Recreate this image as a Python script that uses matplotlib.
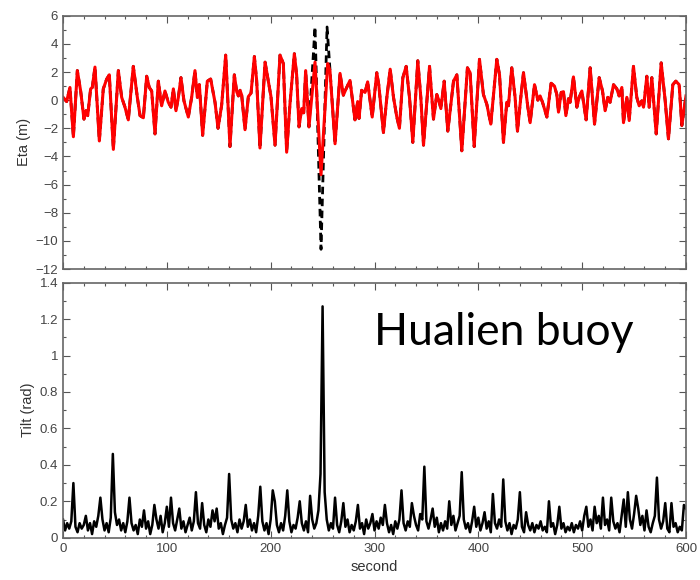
import numpy as np
import matplotlib
matplotlib.use('Agg')
import matplotlib.pyplot as plt
from matplotlib.ticker import MultipleLocator, FormatStrFormatter

eta_time = [0, 3.5, 6.7, 10.0, 13.8, 17.0, 20.2, 22.1, 23.8, 26.6, 28.2, 30.8, 35.0, 38.8, 42.1,
            44.6, 48.5, 53.3, 56.5, 59.7, 62.9, 67.7, 71.6, 74.2, 77.4, 80.6, 83.1, 85.4, 88.6,
            91.8, 95.0, 98.2, 101.4, 104.0, 106.3, 108.8, 111.1, 113.6, 116.5, 120.7, 123.9,
            127.1, 129.4, 131.3, 134.5, 139.0, 142.2, 146.4, 149.3, 152.8, 156.7, 160.8, 165.0,
            167.3, 168.9, 170.5, 172.1, 175.3, 178.5, 181.1, 184.3, 186.5, 189.7, 194.6, 197.8,
            200.3, 204.2, 209.0, 212.2, 215.4, 218.6, 222.8, 225.0, 227.3, 229.9, 231.8, 233.7,
            236.9, 242.7, 248.5, 254.9, 257.1, 262.0, 266.8, 270.0, 272.6, 276.4, 281.2, 283.8,
            285.1, 287.6, 290.9, 293.4, 297.8, 302.2, 304.1, 308.6, 311.9, 315.1, 318.3, 321.5,
            324.0, 327.3, 330.5, 333.7, 336.9, 341.7, 344.6, 347.2, 353.0, 356.8, 360.0, 361.9,
            363.9, 367.1, 370.6, 376.1, 379.3, 384.1, 389.5, 392.1, 396.0, 401.1, 404.9, 408.2,
            412.0, 417.8, 420.4, 424.2, 427.4, 429.0, 432.2, 435.4, 437.7, 440.9, 443.5, 447.7,
            449.9, 454.1, 457.3, 459.5, 461.8, 466.0, 470.1, 473.3, 475.6, 477.2, 479.8, 482.0,
            484.3, 486.8, 488.4, 491.6, 494.9, 497.1, 499.7, 503.8, 507.7, 511.9, 516.4, 519.6,
            522.1, 524.7, 526.9, 530.2, 533.4, 535.6, 538.2, 539.8, 543.0, 545.3, 549.4, 552.6,
            554.9, 557.4, 559.1, 562.3, 564.5, 567.1, 571.3, 576.1, 579.9, 583.1, 587.3, 590.2,
            593.4, 596.0, 600.0]
eta_red = [0.2, -0.1, 0.9, -2.6, 2.1, 0.65, -1.35, -0.75, -1.1, 0.8, 0.9, 2.35, -2.9, 0.8, 1.5,
           1.8, -3.5, 2.1, 0.2, -0.5, -1.4, 2.4, 0.2, -1.1, -1.25, 1.7, 0.9, 0.65, -2.4,
           1.35, -0.4, 0.65, -0.15, -0.5, 0.8, -0.75, 0.2, 1.6, -0.05, -1.2, 0.2,
           2.1, 0.2, 1.1, -2.5, 1.35, 1.5, -0.15, -2.0, -0.35, 3.2, -3.3, 1.8,
           0.6, 0.3, 0.7, 0.35, -2.1, 0.25, 0.5, 3.1, 1.4, -3.4, 2.7, 1.3,
           0.25, -3.2, 3.2, 2.6, -3.7, -0.25, 3.3, 1.8, -1.9, -0.6, -0.9, 2.1,
           -1.9, 2.7, -5.3, 2.6, 2.1, -3.1, 1.9, 0.35, 0.8, 1.4, -1.4, -0.1,
           -1.3, 0.7, 0.55, 1.3, -1.2, 1.95, 1.1, -2.3, 0.2, 2.2, 0.2, -1.2,
           -2.0, 1.6, 2.4, 0.2, -3.0, 2.8, 0.2, -3.2, 2.4, -1.35, 0.4, 0.0,
           -0.6, 1.35, -2.2, 1.35, 1.8, -3.6, 2.3, 1.95, -3.3, 2.9, 0.4, -0.3,
           -1.7, 2.9, 1.8, -3.0, -0.15, -0.4, 2.3, 0.2, -2.2, 0.2, 1.95, -0.5,
           -1.6, 1.1, 0.0, 0.3, -0.15, -1.2, 1.2, 1.0, 0.4, -0.85, 0.55, 0.6,
           -1.1, 0.1, -0.15, 1.65, -0.5, 0.2, 0.65, -1.4, 2.3, -1.7, 1.6, 0.65,
           -0.75, 0.2, -0.15, 1.1, 0.8, 0.3, 0.9, -1.6, 0.2, -1.45, 2.4, 0.2,
           -0.4, -0.05, -0.5, 1.7, -0.5, 1.6, -2.4, 2.65, 0.0, -2.75, 1.1, 1.35,
           1.1, -1.8, 0.3]

# black dashed record, where it departs from the red one
eta_alt_time = [236.9, 242.7, 248.5, 254.3, 262.0]
eta_alt = [-1.9, 5.2, -10.6, 5.2, -3.1]

# tilt, one value every 2 s
tilt_dt = 2
tilt = [0.10, 0.04, 0.08, 0.05, 0.09, 0.30, 0.06, 0.03, 0.08, 0.05,
        0.07, 0.12, 0.04, 0.08, 0.02, 0.09, 0.06, 0.12, 0.22, 0.10,
        0.04, 0.08, 0.03, 0.11, 0.46, 0.14, 0.07, 0.10, 0.04, 0.08,
        0.03, 0.09, 0.22, 0.08, 0.04, 0.07, 0.02, 0.10, 0.06, 0.15,
        0.05, 0.09, 0.02, 0.07, 0.18, 0.10, 0.05, 0.12, 0.03, 0.08,
        0.17, 0.06, 0.22, 0.08, 0.04, 0.10, 0.16, 0.05, 0.09, 0.03,
        0.07, 0.11, 0.04, 0.09, 0.25, 0.08, 0.05, 0.19, 0.07, 0.03,
        0.10, 0.06, 0.15, 0.09, 0.16, 0.05, 0.08, 0.02, 0.07, 0.11,
        0.35, 0.10, 0.05, 0.08, 0.03, 0.10, 0.05, 0.09, 0.18, 0.06,
        0.10, 0.04, 0.08, 0.03, 0.12, 0.28, 0.09, 0.04, 0.08, 0.02,
        0.10, 0.26, 0.20, 0.07, 0.03, 0.08, 0.04, 0.12, 0.26, 0.09,
        0.03, 0.07, 0.05, 0.11, 0.20, 0.08, 0.04, 0.09, 0.03, 0.23,
        0.10, 0.05, 0.08, 0.15, 0.35, 1.27, 0.25, 0.10, 0.04, 0.08,
        0.05, 0.22, 0.07, 0.03, 0.09, 0.19, 0.06, 0.10, 0.03, 0.07,
        0.04, 0.09, 0.18, 0.05, 0.08, 0.02, 0.10, 0.05, 0.08, 0.13,
        0.04, 0.09, 0.05, 0.11, 0.07, 0.18, 0.08, 0.03, 0.07, 0.02,
        0.09, 0.05, 0.10, 0.26, 0.08, 0.04, 0.09, 0.06, 0.19, 0.12,
        0.07, 0.04, 0.13, 0.10, 0.39, 0.09, 0.05, 0.10, 0.16, 0.06,
        0.11, 0.03, 0.08, 0.04, 0.09, 0.05, 0.20, 0.07, 0.12, 0.04,
        0.08, 0.12, 0.36, 0.10, 0.05, 0.08, 0.03, 0.09, 0.17, 0.06,
        0.11, 0.04, 0.08, 0.14, 0.05, 0.09, 0.03, 0.24, 0.08, 0.05,
        0.10, 0.06, 0.32, 0.09, 0.04, 0.08, 0.02, 0.07, 0.05, 0.10,
        0.25, 0.06, 0.03, 0.14, 0.07, 0.04, 0.08, 0.03, 0.07, 0.05,
        0.09, 0.04, 0.06, 0.03, 0.20, 0.06, 0.08, 0.02, 0.07, 0.17,
        0.05, 0.08, 0.03, 0.06, 0.04, 0.08, 0.03, 0.07, 0.05, 0.09,
        0.04, 0.12, 0.17, 0.06, 0.10, 0.04, 0.17, 0.08, 0.12, 0.05,
        0.22, 0.07, 0.10, 0.04, 0.22, 0.09, 0.05, 0.08, 0.03, 0.12,
        0.21, 0.06, 0.25, 0.10, 0.05, 0.13, 0.23, 0.16, 0.07, 0.12,
        0.04, 0.15, 0.06, 0.03, 0.08, 0.12, 0.33, 0.10, 0.05, 0.09,
        0.19, 0.05, 0.03, 0.19, 0.06, 0.08, 0.03, 0.06, 0.04, 0.18,
        0.16]

eta_time = np.array(eta_time)
eta_red = np.array(eta_red)
before = eta_time < eta_alt_time[0]
after = eta_time > eta_alt_time[-1]
black_t = np.concatenate([eta_time[before], eta_alt_time, eta_time[after]])
black_y = np.concatenate([eta_red[before], eta_alt, eta_red[after]])
tilt_time = np.arange(len(tilt)) * tilt_dt

plt.rcParams['font.family'] = ['Liberation Sans', 'DejaVu Sans']

fig = plt.figure(figsize=(7, 5.8), dpi=100)
ax1 = fig.add_axes([0.09, 0.5362, 0.89, 0.4367])
ax2 = fig.add_axes([0.09, 0.0729, 0.89, 0.4397])

ax1.plot(black_t, black_y, color='black', lw=2.0, dashes=(2.7, 1.6))
ax1.plot(eta_time, eta_red, color='red', lw=2.2)
ax1.set_xlim(0, 600)
ax1.set_ylim(-12, 6)
ax1.yaxis.set_major_locator(MultipleLocator(2))
ax1.yaxis.set_minor_locator(MultipleLocator(1))
ax1.set_ylabel('Eta (m)', fontsize=10.5, color='#333', labelpad=3)

ax2.plot(tilt_time, tilt, color='black', lw=1.8)
ax2.set_xlim(0, 600)
ax2.set_ylim(0, 1.4)
ax2.yaxis.set_major_locator(MultipleLocator(0.2))
ax2.yaxis.set_minor_locator(MultipleLocator(0.1))
ax2.yaxis.set_major_formatter(FormatStrFormatter('%g'))
ax2.set_ylabel('Tilt (rad)', fontsize=10.5, color='#333', labelpad=3)
ax2.set_xlabel('second', fontsize=10.5, color='#333', labelpad=4)
ax2.text(0.50, 0.756, 'Hualien buoy', transform=ax2.transAxes, fontsize=32,
         family='Lato', va='baseline', ha='left', color='black')

for ax in (ax1, ax2):
    ax.xaxis.set_major_locator(MultipleLocator(100))
    ax.xaxis.set_minor_locator(MultipleLocator(20))
    ax.tick_params(which='both', direction='in', top=True, right=True,
                   color='#555', labelcolor='#444', labelsize=9.5)
    ax.tick_params(which='major', length=5, width=0.8)
    ax.tick_params(which='minor', length=2.5, width=0.8)
    for s in ax.spines.values():
        s.set_color('#666')
        s.set_linewidth(1.2)
ax1.tick_params(labelbottom=False)

fig.savefig('out.png', dpi=100)
